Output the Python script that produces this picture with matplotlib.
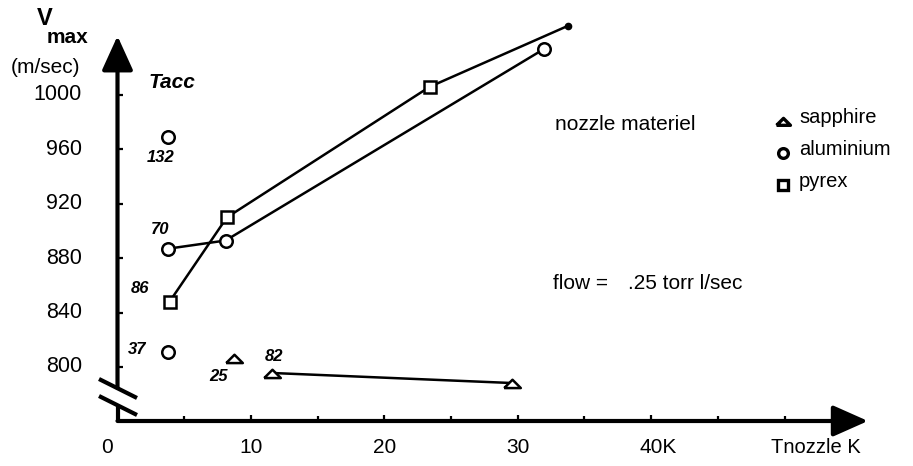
import matplotlib
matplotlib.use('Agg')
import matplotlib.pyplot as plt

plt.rcParams['font.family'] = ['Liberation Sans', 'DejaVu Sans']

# values: T nozzle (K) and v max (m/sec)
sapphire_x = [11.6, 29.6]
sapphire_v = [795.6, 788.2]
sapphire_single_x = [8.7]
sapphire_single_v = [806.6]

aluminium_x = [3.8, 8.1, 32.0]
aluminium_v = [887, 893, 1034]
aluminium_single_x = [3.8, 3.8]
aluminium_single_v = [969, 811]

pyrex_x = [3.9, 8.2, 23.4]
pyrex_v = [848, 910, 1006]
pyrex_end_x = [33.8]
pyrex_end_v = [1051]

# T acc labels next to the points
tacc_labels = ['132', '70', '86', '37', '25', '82']
tacc_x = [3.2, 3.2, 1.7, 1.5, 7.6, 11.7]
tacc_v = [954, 901, 858, 813, 793, 808]

y_ticks = [800, 840, 880, 920, 960, 1000]
x_ticks = [10, 20, 30, 40]
x_ticklabels = ['10', '20', '30', '40K']
x_minor = [5, 15, 25, 35, 45, 50]

# hand drawn axes: the whole figure is one data area
X0, SX = 117.5, 13.34   # pixel of T=0, pixels per K
Y800, SY = 367, 1.36    # pixel of v=800, pixels per m/sec


def px(x, y):
    'pixel position -> data position'
    return (x - X0) / SX, 800 + (Y800 - y) / SY


fig = plt.figure(figsize=(9.13, 4.66), dpi=100)
ax = fig.add_axes([0, 0, 1, 1])
ax.set_xlim(px(0, 0)[0], px(913, 0)[0])
ax.set_ylim(px(0, 466)[1], px(0, 0)[1])
ax.axis('off')

x_end, y_axis = px(868, 421)
_, v_top = px(0, 36)
_, v_brk_hi = px(0, 388)
_, v_brk_lo = px(0, 405)

# x axis with arrow
ax.annotate('', xy=(x_end, y_axis), xytext=(0, y_axis),
            arrowprops=dict(arrowstyle='-|>,head_length=0.45,head_width=0.2',
                            mutation_scale=48, lw=3, color='k',
                            shrinkA=0, shrinkB=0))
# y axis with arrow, broken near the bottom
ax.annotate('', xy=(0, v_top), xytext=(0, v_brk_hi),
            arrowprops=dict(arrowstyle='-|>,head_length=0.44,head_width=0.2',
                            mutation_scale=48, lw=3, color='k',
                            shrinkA=0, shrinkB=0))
ax.plot([0, 0], [y_axis, v_brk_lo], color='k', lw=3, solid_capstyle='butt')
for dy in (0, 17):
    a = px(99, 379 + dy)
    b = px(137, 398 + dy)
    ax.plot([a[0], b[0]], [a[1], b[1]], color='k', lw=3, solid_capstyle='butt')

# ticks
ax.vlines(x_ticks, y_axis, y_axis + 6 / SY, color='k', lw=1.6)
ax.vlines(x_minor, y_axis, y_axis + 5 / SY, color='k', lw=1.6)
ax.hlines(y_ticks, 0, 5 / SX, color='k', lw=1.6)

# tick labels
for v in y_ticks:
    ax.text(px(82, 0)[0], v, str(v), ha='right', va='center', fontsize=15.5)
_, v_lab = px(0, 448)
for x, lab in zip(x_ticks, x_ticklabels):
    xx = x + 0.5 if lab.endswith('K') else x
    ax.text(xx, v_lab, lab, ha='center', va='center', fontsize=15)
ax.text(px(107, 0)[0], v_lab, '0', ha='center', va='center', fontsize=15)
ax.text(*px(816, 448), 'Tnozzle K', ha='center', va='center', fontsize=14.5)

# y axis title
ax.text(*px(45, 19), 'V', ha='center', va='center', fontsize=17, fontweight='bold')
ax.text(*px(67, 38), 'max', ha='center', va='center', fontsize=15, fontweight='bold')
ax.text(*px(45, 68), '(m/sec)', ha='center', va='center', fontsize=15)
ax.text(*px(172, 83), 'Tacc', ha='center', va='center', fontsize=15,
        fontweight='bold', fontstyle='italic')

# data
tri = [(-1, -0.55), (1, -0.55), (0, 0.45), (-1, -0.55)]
line_kw = dict(color='k', lw=1.8, mfc='white', mec='k', mew=1.8)
ax.plot(sapphire_x, sapphire_v, marker=tri, ms=12, **line_kw)
ax.plot(sapphire_single_x, sapphire_single_v, ls='none', marker=tri, ms=12, **line_kw)
ax.plot(pyrex_x + pyrex_end_x, pyrex_v + pyrex_end_v, **line_kw)
ax.plot(pyrex_x, pyrex_v, ls='none', marker='s', ms=8.5, **line_kw)
ax.plot(pyrex_end_x, pyrex_end_v, ls='none', marker='o', ms=4.5, color='k')
ax.plot(aluminium_x, aluminium_v, marker='o', ms=9, **line_kw)
ax.plot(aluminium_single_x, aluminium_single_v, ls='none', marker='o', ms=9, **line_kw)

for lab, x, v in zip(tacc_labels, tacc_x, tacc_v):
    ax.text(x, v, lab, ha='center', va='center', fontsize=12,
            fontweight='bold', fontstyle='italic')

# legend drawn by hand
ax.text(*px(555, 125), 'nozzle materiel', ha='left', va='center', fontsize=15)
legend_names = ['sapphire', 'aluminium', 'pyrex']
legend_marks = [tri, 'o', 's']
for i, (name, m) in enumerate(zip(legend_names, legend_marks)):
    y = 118 + 32 * i
    ax.plot(*px(783, y + 3), ls='none', marker=m, ms=7 if m != tri else 10,
            mfc='white', mec='k', mew=2.4)
    ax.text(*px(799, y), name, ha='left', va='center', fontsize=14.5)

ax.text(*px(553, 284), 'flow =', ha='left', va='center', fontsize=15)
ax.text(*px(628, 284), '.25 torr l/sec', ha='left', va='center', fontsize=15)

plt.savefig('out.png', dpi=100)
